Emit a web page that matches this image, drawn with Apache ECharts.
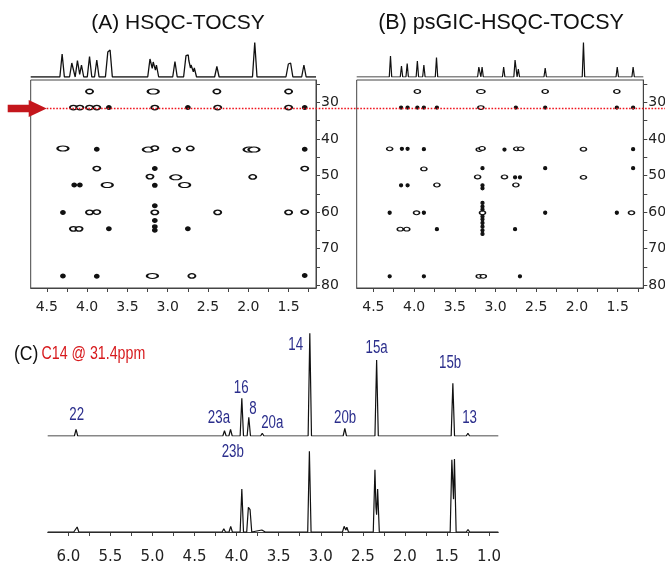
<!DOCTYPE html>
<html>
<head>
<meta charset="utf-8">
<style>
  html, body { margin: 0; padding: 0; background: #fff; }
  #chart { width: 665px; height: 568px; }
</style>
<script src="https://cdn.jsdelivr.net/npm/echarts@6/dist/echarts.min.js"></script>
</head>
<body>
<div id="chart"></div>
<script>
// ---- 1H projections above the 2D maps: [shift (ppm), height] ----
const projHsqcTocsy = [
  [4.31, 23], [4.19, 14], [4.12, 16.5], [4.07, 12], [3.97, 20.5], [3.88, 17],
  [3.745, 27], [3.715, 27], [3.22, 18], [3.18, 15], [3.14, 12], [2.91, 15.5],
  [2.775, 23], [2.745, 22], [2.71, 12], [2.67, 9], [2.39, 10.5], [1.92, 34.5],
  [1.505, 14], [1.475, 14], [1.31, 12]
];
const projPsGic = [
  [4.29, 21], [4.155, 11], [4.085, 13.5], [3.96, 16], [3.88, 12], [3.725, 19.5],
  [3.205, 10], [3.165, 10], [2.90, 10], [2.76, 17], [2.72, 8], [2.39, 9],
  [1.92, 34.5], [1.505, 10], [1.31, 10]
];

// ---- 2D cross peaks: [1H (ppm), 13C (ppm), contour level 1..3] ----
const crossHsqcTocsy = [
  [3.97, 27, 2], [3.18, 27, 3], [2.39, 27, 2], [1.50, 27, 2],
  [4.17, 31.4, 2], [4.09, 31.4, 2], [3.97, 31.4, 2], [3.88, 31.4, 2], [3.73, 31.4, 1],
  [3.16, 31.4, 2], [2.75, 31.4, 1], [2.38, 31.4, 2], [1.50, 31.4, 2], [1.30, 31.4, 1],
  [4.30, 42.6, 3], [3.88, 42.8, 1], [3.24, 42.9, 3], [3.16, 42.5, 2], [2.89, 42.9, 2],
  [2.72, 42.6, 2], [1.99, 42.9, 3], [1.93, 42.9, 3], [1.30, 42.8, 1],
  [3.88, 48.1, 2], [3.16, 48.1, 1], [1.30, 48.1, 2],
  [3.22, 50.3, 2], [2.90, 50.5, 3], [1.945, 50.4, 2],
  [4.16, 52.6, 1], [4.09, 52.6, 1], [3.75, 52.6, 3], [3.16, 52.7, 1], [2.79, 52.6, 3],
  [4.30, 60.1, 1], [3.97, 60.1, 2], [3.88, 60.0, 2], [3.16, 60.1, 2], [2.38, 60.1, 2],
  [1.50, 60.1, 2], [1.30, 60.0, 2],
  [3.16, 58.3, 1], [3.16, 62.3, 1], [3.16, 64.0, 1], [3.16, 65.0, 1],
  [4.17, 64.6, 2], [4.10, 64.6, 2], [3.73, 64.6, 1], [2.75, 64.6, 1],
  [4.30, 77.5, 1], [3.88, 77.6, 1], [3.19, 77.5, 3], [2.70, 77.5, 2], [1.30, 77.4, 1]
];
const crossPsGic = [
  [3.96, 27, 2], [3.18, 27, 3], [2.39, 27, 2], [1.51, 27, 2],
  [4.16, 31.4, 1], [4.08, 31.4, 1], [3.96, 31.4, 1], [3.88, 31.4, 1], [3.72, 31.4, 1],
  [3.18, 31.4, 2], [2.75, 31.4, 1], [2.39, 31.4, 1], [1.51, 31.4, 1], [1.31, 31.4, 1],
  [4.30, 42.7, 2], [4.15, 42.7, 1], [4.08, 42.7, 1], [3.88, 42.8, 1], [3.20, 42.9, 2],
  [3.165, 42.6, 2], [2.89, 42.9, 1], [2.74, 42.7, 2], [2.69, 42.7, 2], [1.92, 42.8, 2],
  [1.31, 42.8, 1],
  [3.88, 48.2, 2], [3.16, 48.0, 1], [2.39, 48.0, 1], [1.31, 48.0, 1],
  [3.22, 50.4, 2], [2.89, 50.4, 2], [2.76, 50.5, 1], [2.70, 50.5, 1], [1.92, 50.5, 2],
  [4.16, 52.7, 1], [4.08, 52.7, 1], [3.72, 52.6, 2], [3.16, 52.7, 1], [3.16, 53.5, 1],
  [2.75, 52.6, 2],
  [4.30, 60.2, 1], [3.97, 60.2, 2], [3.88, 60.2, 1], [3.16, 60.2, 2], [2.39, 60.2, 1],
  [1.51, 60.2, 1], [1.33, 60.2, 2],
  [3.16, 57.5, 1], [3.16, 58.5, 1], [3.16, 59.3, 1], [3.16, 61.2, 1], [3.16, 62.0, 1],
  [3.16, 63.0, 1], [3.16, 64.0, 1], [3.16, 65.0, 1], [3.16, 66.0, 1],
  [4.17, 64.7, 2], [4.09, 64.7, 2], [3.72, 64.7, 1], [2.76, 64.7, 1],
  [4.30, 77.6, 1], [3.88, 77.6, 1], [3.20, 77.6, 2], [3.15, 77.6, 2], [2.70, 77.6, 1]
];

// ---- C14 slice at 31.4 ppm and reference 1H spectrum: [shift (ppm), height] ----
const sliceShift = 31.4;
const sliceTrace = [
  [5.908, 6.7], [4.144, 5.3], [4.072, 6.7], [3.938, 37.7], [3.855, 18.7], [3.695, 2.7],
  [3.13, 102.7], [2.714, 7.7], [2.336, 76], [1.430, 52.7], [1.251, 2.7]
];
const refTrace = [
  [5.915, 4.5], [5.895, 5], [4.152, 3.3], [4.07, 5.7], [3.938, 43], [3.86, 24.7],
  [3.84, 22.3], [3.70, 2], [3.68, 2], [3.135, 80.7], [2.722, 5.7], [2.69, 4.7],
  [2.356, 62.3], [2.324, 43], [1.442, 72.3], [1.411, 73], [1.25, 2.5]
];
// assignment labels: [text, ppm, height]
const peakLabels = [
  ['22', 5.90, 21], ['23a', 4.21, 17.7], ['23b', 4.045, -15.7], ['16', 3.945, 47.7],
  ['8', 3.807, 27], ['20a', 3.576, 12.7], ['14', 3.298, 91], ['20b', 2.71, 18.3],
  ['15a', 2.336, 87.7], ['15b', 1.462, 72.7], ['13', 1.232, 17.7]
];

// ---- axis ticks and labels ----
const protonLabels2D = [1.5, 2.0, 2.5, 3.0, 3.5, 4.0, 4.5];
const protonTicks2D = [1.25, 1.5, 1.75, 2.0, 2.25, 2.5, 2.75, 3.0, 3.25, 3.5, 3.75, 4.0, 4.25, 4.5];
const carbonLabels = [30, 40, 50, 60, 70, 80];
const carbonTicks = [25, 30, 35, 40, 45, 50, 55, 60, 65, 70, 75, 80];
const protonLabels1D = [1.0, 1.5, 2.0, 2.5, 3.0, 3.5, 4.0, 4.5, 5.0, 5.5, 6.0];
const protonTicks1D = [1.0, 1.25, 1.5, 1.75, 2.0, 2.25, 2.5, 2.75, 3.0, 3.25, 3.5, 3.75, 4.0,
  4.25, 4.5, 4.75, 5.0, 5.25, 5.5, 5.75, 6.0, 6.25];

const rangeA = [1.16, 4.70];
const rangeB = [1.185, 4.705];
const rangeC = [0.89, 6.245];
const carbonRange = [23.85, 80.8];

// stick peaks rendered as narrow triangles; overlapping ones keep the upper envelope
function buildTrace(peaks, hw, lo, hi) {
  const xs = [lo, hi];
  peaks.forEach(p => xs.push(p[0] - hw, p[0], p[0] + hw));
  const uniq = Array.from(new Set(xs.filter(x => x >= lo && x <= hi))).sort((a, b) => a - b);
  return uniq.map(x => {
    let y = 0;
    peaks.forEach(([c, h]) => {
      const t = 1 - Math.abs(x - c) / hw;
      if (t > 0) y = Math.max(y, h * t);
    });
    return [x, y];
  });
}

const INK = '#111';
const AXIS = '#444';
const tickFont = { fontFamily: 'DejaVu Sans', color: '#222' };
const SANS = "'Liberation Sans', Arial, sans-serif";

function hiddenX(range, grid) {
  return { type: 'value', gridIndex: grid, inverse: true, min: range[0], max: range[1], show: false };
}
function shiftAxis(range, grid, labels, ticks, fontSize, margin) {
  return {
    type: 'value', gridIndex: grid, inverse: true, min: range[0], max: range[1],
    axisLine: { show: true, lineStyle: { color: AXIS, width: 1 } },
    axisTick: { show: true, length: 4, customValues: ticks, lineStyle: { color: AXIS } },
    axisLabel: {
      show: true, customValues: labels, margin: margin, fontSize: fontSize, ...tickFont,
      formatter: v => v.toFixed(1)
    },
    splitLine: { show: false }
  };
}
function carbonAxis(grid) {
  return {
    type: 'value', gridIndex: grid, inverse: true, position: 'right',
    min: carbonRange[0], max: carbonRange[1],
    axisLine: { show: true, lineStyle: { color: AXIS, width: 1 } },
    axisTick: { show: true, length: 4, customValues: carbonTicks, lineStyle: { color: AXIS } },
    axisLabel: { show: true, customValues: carbonLabels, margin: 5, fontSize: 14, ...tickFont },
    splitLine: { show: false }
  };
}
function hiddenY(min, max, grid) {
  return { type: 'value', gridIndex: grid, min: min, max: max, show: false, splitLine: { show: false } };
}

function crossSeries(data, axis, sizes, border) {
  return {
    type: 'scatter', xAxisIndex: axis, yAxisIndex: axis, data: data,
    symbol: 'circle',
    symbolSize: v => sizes[v[2]],
    itemStyle: {
      opacity: 1,
      color: p => (p.value[2] === 1 ? INK : '#fff'),
      borderColor: INK, borderWidth: border
    },
    silent: true, animation: false
  };
}
function traceSeries(peaks, hw, range, axis, width) {
  return {
    type: 'line', xAxisIndex: axis, yAxisIndex: axis, data: buildTrace(peaks, hw, range[0], range[1]),
    showSymbol: false, symbol: 'none', silent: true, animation: false,
    lineStyle: { color: INK, width: width }
  };
}

const gridBase = { containLabel: false, outerBoundsMode: 'none' };
const chart = echarts.init(document.getElementById('chart'), null, { renderer: 'canvas' });

chart.setOption({
  backgroundColor: '#fff',
  animation: false,
  grid: [
    { ...gridBase, left: 30.7, top: 40, width: 285.3, height: 37 },
    { ...gridBase, left: 30.7, top: 80, width: 285.3, height: 208, show: true, borderColor: AXIS, borderWidth: 1 },
    { ...gridBase, left: 356.7, top: 40, width: 286.6, height: 37 },
    { ...gridBase, left: 356.7, top: 80, width: 286.6, height: 208, show: true, borderColor: AXIS, borderWidth: 1 },
    { ...gridBase, left: 47.7, top: 326, width: 450.6, height: 110 },
    { ...gridBase, left: 47.7, top: 440, width: 450.6, height: 100 }
  ],
  xAxis: [
    hiddenX(rangeA, 0),
    shiftAxis(rangeA, 1, protonLabels2D, protonTicks2D, 14, 12),
    hiddenX(rangeB, 2),
    shiftAxis(rangeB, 3, protonLabels2D, protonTicks2D, 14, 12),
    hiddenX(rangeC, 4),
    shiftAxis(rangeC, 5, protonLabels1D, protonTicks1D, 15, 10)
  ],
  yAxis: [
    hiddenY(0, 37, 0),
    carbonAxis(1),
    hiddenY(0, 37, 2),
    carbonAxis(3),
    hiddenY(0, 110, 4),
    hiddenY(-8, 92, 5)
  ],
  series: [
    traceSeries(projHsqcTocsy, 0.028, rangeA, 0, 1.3),
    crossSeries(crossHsqcTocsy, 1, { 1: [4, 3.5], 2: [7, 4.5], 3: [11, 5] }, 1.6),
    traceSeries(projPsGic, 0.015, rangeB, 2, 1.2),
    crossSeries(crossPsGic, 3, { 1: [3, 3], 2: [6, 3.8], 3: [8, 4] }, 1.3),
    traceSeries(sliceTrace, 0.02, rangeC, 4, 1.2),
    traceSeries(refTrace, 0.02, rangeC, 5, 1.2),
    {
      // peak assignments, set in a condensed face
      type: 'custom', xAxisIndex: 4, yAxisIndex: 4, silent: true, animation: false, clip: false,
      data: peakLabels.map(([t, x, y]) => ({ name: t, value: [x, y] })),
      renderItem: (params, api) => {
        const p = api.coord([api.value(0), api.value(1)]);
        return {
          type: 'text', x: p[0], y: p[1], scaleX: 0.76,
          style: {
            text: peakLabels[params.dataIndex][0], fill: '#2b2e8c',
            fontSize: 17.5, fontFamily: SANS, align: 'center', verticalAlign: 'middle'
          }
        };
      }
    }
  ]
});

// slice marker: dotted line at the C14 carbon shift with a pointer arrow on the left
const gridA = chart.getModel().getComponent('grid', 1).coordinateSystem.getRect();
const lineY = Math.round(chart.convertToPixel({ xAxisIndex: 1, yAxisIndex: 1 }, [rangeA[1], sliceShift])[1]) + 0.5;
const tipX = gridA.x + 16;

chart.setOption({
  graphic: [
    {
      type: 'line', silent: true, z: 50,
      shape: { x1: tipX, y1: lineY, x2: chart.getWidth(), y2: lineY },
      style: { stroke: '#f0141e', lineWidth: 1.3, lineDash: [1.6, 1.6] }
    },
    {
      type: 'polygon', silent: true, z: 60,
      shape: {
        points: [
          [tipX - 39, lineY - 3.8], [tipX - 18, lineY - 3.8], [tipX - 18, lineY - 8.5],
          [tipX, lineY], [tipX - 18, lineY + 8.5], [tipX - 18, lineY + 3.8], [tipX - 39, lineY + 3.8]
        ]
      },
      style: { fill: '#c4161c' }
    },
    {
      type: 'text', silent: true, x: 178, y: 23,
      style: { text: '(A) HSQC-TOCSY', fontSize: 21, fontFamily: SANS,
        fill: INK, align: 'center', verticalAlign: 'middle' }
    },
    {
      type: 'text', silent: true, x: 501, y: 23,
      style: { text: '(B) psGIC-HSQC-TOCSY', fontSize: 21.5, fontFamily: SANS,
        fill: INK, align: 'center', verticalAlign: 'middle' }
    },
    {
      type: 'text', silent: true, x: 14, y: 354, scaleX: 0.84,
      style: { text: '(C)', fontSize: 21, fontFamily: SANS,
        fill: INK, align: 'left', verticalAlign: 'middle' }
    },
    {
      type: 'text', silent: true, x: 41.5, y: 354, scaleX: 0.79,
      style: { text: 'C14 @ 31.4ppm', fontSize: 18, fontFamily: SANS,
        fill: '#d7191c', align: 'left', verticalAlign: 'middle' }
    }
  ]
});
</script>
</body>
</html>
